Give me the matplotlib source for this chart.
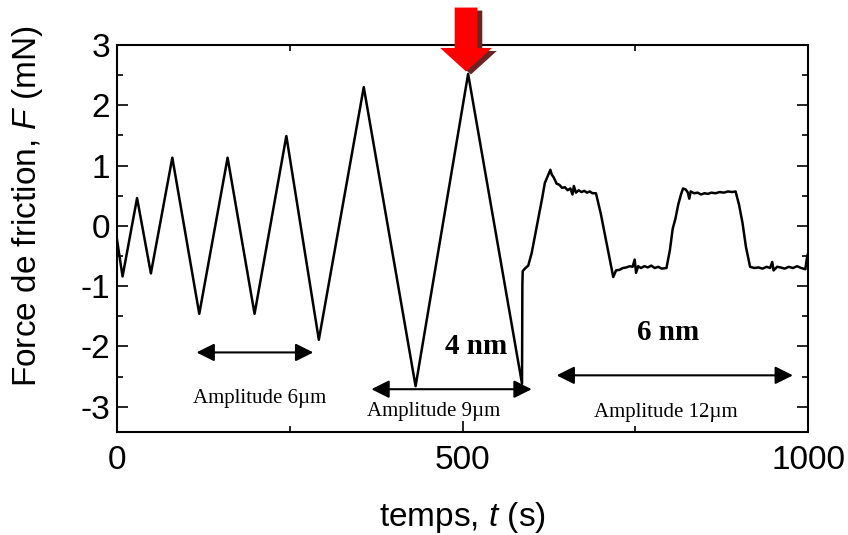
import matplotlib
matplotlib.use("Agg")
import matplotlib.pyplot as plt
from matplotlib.patches import FancyArrow
from matplotlib.ticker import MultipleLocator

# friction force vs time
t_s = [0, 8, 29, 49, 80, 119, 160, 199, 245, 292, 357, 432, 508, 586,
       586.5, 587, 591, 595, 600, 605, 610, 615, 619, 623, 627, 629, 632, 636,
       640, 644, 648, 652, 656, 659, 661, 664, 668, 672, 676, 680, 684, 688,
       693, 700, 706, 712, 718, 722, 727, 732, 737, 742, 746, 749, 751, 754,
       758, 763, 768, 773, 778, 783, 788, 795, 800, 804, 808, 812, 816, 819,
       823, 826, 828, 830, 835, 840, 845, 850, 855, 860, 866, 872, 878, 884,
       890, 895, 900, 905, 910, 916, 922, 928, 934, 940, 945, 948, 950, 955,
       960, 966, 972, 978, 984, 990, 996, 998, 1000]
force_mN = [-0.23, -0.84, 0.46, -0.79, 1.13, -1.46, 1.13, -1.46, 1.49, -1.89, 2.30, -2.66, 2.52, -2.62,
            -0.98, -0.75, -0.70, -0.66, -0.45, -0.15, 0.15, 0.45, 0.71, 0.82, 0.93, 0.85, 0.80, 0.70,
            0.68, 0.63, 0.64, 0.59, 0.62, 0.52, 0.66, 0.55, 0.59, 0.56, 0.58, 0.55, 0.57, 0.54,
            0.54, 0.20, -0.15, -0.50, -0.85, -0.74, -0.73, -0.70, -0.69, -0.67, -0.68, -0.56, -0.78, -0.67,
            -0.70, -0.67, -0.69, -0.66, -0.70, -0.68, -0.71, -0.70, -0.40, -0.05, 0.12, 0.35, 0.52, 0.62,
            0.60, 0.55, 0.45, 0.57, 0.54, 0.55, 0.52, 0.54, 0.53, 0.55, 0.54, 0.56, 0.55, 0.57,
            0.56, 0.57, 0.35, 0.05, -0.35, -0.68, -0.70, -0.69, -0.71, -0.68, -0.70, -0.60, -0.74, -0.68,
            -0.69, -0.71, -0.68, -0.70, -0.67, -0.70, -0.72, -0.55, -0.45]

# double arrows: (t start, t end, F level), labels: (text, t, F)
amp_arrows = [(115, 284, -2.10), (368, 600, -2.71), (636, 978, -2.48)]
amp_labels = [("Amplitude 6\u00b5m", 206, -2.86), ("Amplitude 9\u00b5m", 458, -3.08),
              ("Amplitude 12\u00b5m", 794, -3.09)]
depth_labels = [("4 nm", 520, -2.0), ("6 nm", 797, -1.77)]
red_arrow_t, red_arrow_top, red_arrow_tip = 505, 3.62, 2.56

plt.rcParams["font.family"] = ["Liberation Sans", "DejaVu Sans"]
plt.rcParams["mathtext.fontset"] = "custom"
plt.rcParams["mathtext.rm"] = "Liberation Sans"
plt.rcParams["mathtext.it"] = "Liberation Sans:italic"
plt.rcParams["axes.unicode_minus"] = False

fig = plt.figure(figsize=(8.48, 5.35), dpi=100)
ax = fig.add_axes([0.138, 0.1925, 0.815, 0.7235])

ax.plot(t_s, force_mN, color="black", lw=1.8)

ax.set_xlim(0, 1000)
ax.set_ylim(-3.42, 3)
ax.xaxis.set_major_locator(MultipleLocator(500))
ax.xaxis.set_minor_locator(MultipleLocator(250))
ax.yaxis.set_major_locator(MultipleLocator(1))
ax.yaxis.set_minor_locator(MultipleLocator(0.5))
ax.tick_params(which="both", direction="in", top=True, right=True, width=1.2)
ax.tick_params(which="major", length=8, labelsize=24)
ax.tick_params(which="minor", length=4)
ax.tick_params(axis="x", pad=9)
ax.tick_params(axis="y", pad=5)
for sp in ax.spines.values():
    sp.set_linewidth(1.5)

ax.set_xlabel("temps, $t$ (s)", fontsize=24)
ax.xaxis.set_label_coords(0.5, -0.22)
ax.set_ylabel("Force de friction, $F$ (mN)", fontsize=24)
ax.yaxis.set_label_coords(-0.13, 0.584)
ax.yaxis.label.set_va("center")
ax.xaxis.label.set_va("center")

for t0, t1, f in amp_arrows:
    ax.annotate("", xy=(t1, f), xytext=(t0, f),
                arrowprops=dict(arrowstyle="<|-|>", color="black", lw=1.5,
                                mutation_scale=27, shrinkA=0, shrinkB=0))
for txt, t, f in amp_labels:
    ax.text(t, f, txt, ha="center", va="center", fontsize=15,
            family=["Liberation Serif", "DejaVu Serif"])
for txt, t, f in depth_labels:
    ax.text(t, f, txt, ha="center", va="center", fontsize=21, fontweight="bold",
            family=["Liberation Serif", "DejaVu Serif"])

# red arrow with dark shadow pointing at the largest peak
for dt, df, col in [(7, -0.05, "#6b2424"), (0, 0, "#ff0000")]:
    ax.add_patch(FancyArrow(red_arrow_t + dt, red_arrow_top + df, 0, red_arrow_tip - red_arrow_top,
                            width=33, head_width=75, head_length=0.39,
                            length_includes_head=True, color=col, lw=0, clip_on=False, zorder=5))

fig.savefig("out.png", dpi=100)
